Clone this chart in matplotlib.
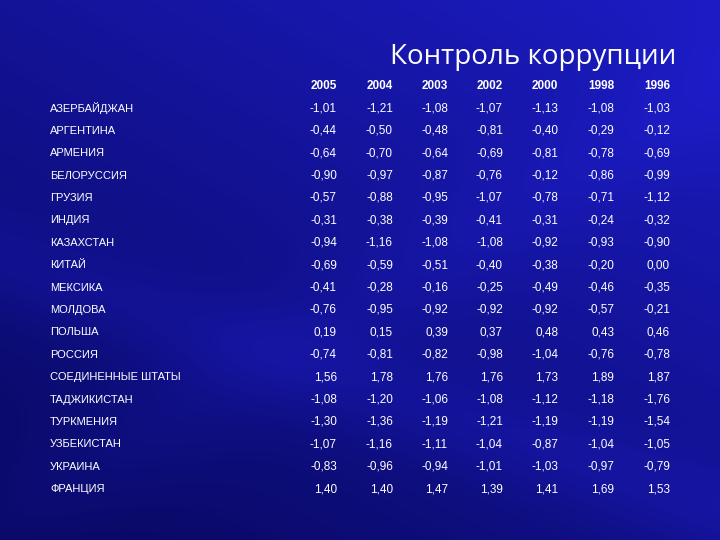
import numpy as np
import matplotlib

matplotlib.use("Agg")
import matplotlib.pyplot as plt

plt.rcParams["font.family"] = ["Liberation Sans", "DejaVu Sans"]

TITLE = "Контроль коррупции"
years = ["2005", "2004", "2003", "2002", "2000", "1998", "1996"]
countries = ["АЗЕРБАЙДЖАН", "АРГЕНТИНА", "АРМЕНИЯ", "БЕЛОРУССИЯ", "ГРУЗИЯ",
             "ИНДИЯ", "КАЗАХСТАН", "КИТАЙ", "МЕКСИКА", "МОЛДОВА", "ПОЛЬША",
             "РОССИЯ", "СОЕДИНЕННЫЕ ШТАТЫ", "ТАДЖИКИСТАН", "ТУРКМЕНИЯ",
             "УЗБЕКИСТАН", "УКРАИНА", "ФРАНЦИЯ"]
values = [
    [-1.01, -1.21, -1.08, -1.07, -1.13, -1.08, -1.03],
    [-0.44, -0.50, -0.48, -0.81, -0.40, -0.29, -0.12],
    [-0.64, -0.70, -0.64, -0.69, -0.81, -0.78, -0.69],
    [-0.90, -0.97, -0.87, -0.76, -0.12, -0.86, -0.99],
    [-0.57, -0.88, -0.95, -1.07, -0.78, -0.71, -1.12],
    [-0.31, -0.38, -0.39, -0.41, -0.31, -0.24, -0.32],
    [-0.94, -1.16, -1.08, -1.08, -0.92, -0.93, -0.90],
    [-0.69, -0.59, -0.51, -0.40, -0.38, -0.20, 0.00],
    [-0.41, -0.28, -0.16, -0.25, -0.49, -0.46, -0.35],
    [-0.76, -0.95, -0.92, -0.92, -0.92, -0.57, -0.21],
    [0.19, 0.15, 0.39, 0.37, 0.48, 0.43, 0.46],
    [-0.74, -0.81, -0.82, -0.98, -1.04, -0.76, -0.78],
    [1.56, 1.78, 1.76, 1.76, 1.73, 1.89, 1.87],
    [-1.08, -1.20, -1.06, -1.08, -1.12, -1.18, -1.76],
    [-1.30, -1.36, -1.19, -1.21, -1.19, -1.19, -1.54],
    [-1.07, -1.16, -1.11, -1.04, -0.87, -1.04, -1.05],
    [-0.83, -0.96, -0.94, -1.01, -1.03, -0.97, -0.79],
    [1.40, 1.40, 1.47, 1.39, 1.41, 1.69, 1.53],
]

W, H = 720, 540
fig = plt.figure(figsize=(7.2, 5.4), dpi=100)
ax = fig.add_axes([0, 0, 1, 1])
ax.set_xlim(0, W)
ax.set_ylim(H, 0)
ax.axis("off")

# saturated blue background, brighter upper-right, with soft light streaks
yy, xx = np.mgrid[0:H, 0:W]
t = 0.55 + 0.35 * (xx / W) - 0.45 * (yy / H)
streak = np.exp(-((yy - 0.35 * xx - 260) / 50.0) ** 2) * 0.15
streak += np.exp(-((yy + 0.6 * xx - 520) / 70.0) ** 2) * 0.10
t = np.clip(t + streak, 0, 1)
img = np.stack([0.02 + 0.10 * t, 0.02 + 0.10 * t, 0.32 + 0.50 * t], axis=-1)
ax.imshow(np.clip(img, 0, 1), extent=[0, W, H, 0], aspect="auto", zorder=0)

ax.text(676, 57, TITLE, color="white", fontsize=20, ha="right", va="center",
        family=["Open Sans", "DejaVu Sans"])

col_x = [337, 393, 448, 503, 558, 614, 670]
y0, dy = 86, 22.4
for x, yr in zip(col_x, years):
    ax.text(x, y0, yr, color="white", fontsize=8.5, fontweight="bold",
            ha="right", va="center")
for i, (name, row) in enumerate(zip(countries, values)):
    y = y0 + dy * (i + 1)
    ax.text(50, y, name, color="white", fontsize=8, ha="left", va="center")
    for x, v in zip(col_x, row):
        ax.text(x, y, f"{v:.2f}".replace(".", ","), color="white",
                fontsize=8.5, ha="right", va="center")

fig.savefig("out.png", dpi=100)
